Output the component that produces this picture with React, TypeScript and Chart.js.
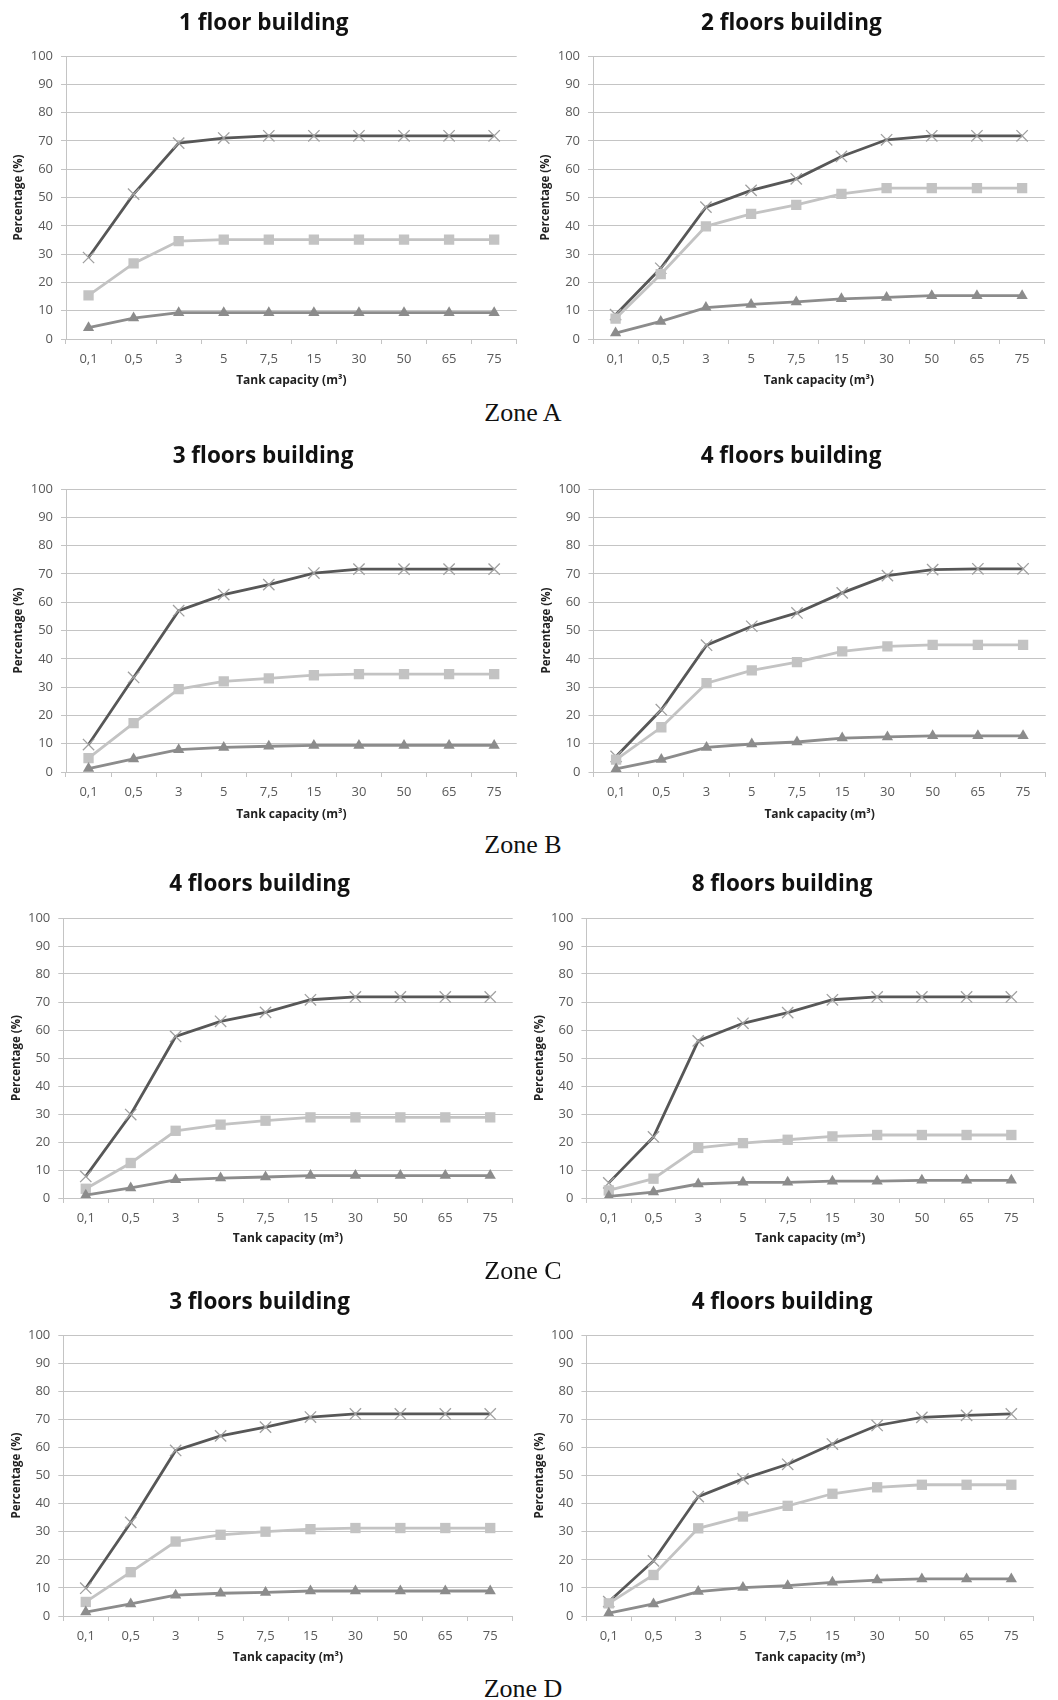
import React, { useEffect, useRef } from "react";
import { Chart, registerables } from "chart.js";

Chart.register(...registerables);

// ---- Data ----
const tankLabels = ["0,1", "0,5", "3", "5", "7,5", "15", "30", "50", "65", "75"];
const yTicks = [0, 10, 20, 30, 40, 50, 60, 70, 80, 90, 100];

const a1Cross = [28.8, 51.2, 69.2, 71.0, 71.8, 71.8, 71.8, 71.8, 71.8, 71.8];
const a1Square = [15.4, 26.7, 34.6, 35.1, 35.1, 35.1, 35.1, 35.1, 35.1, 35.1];
const a1Tri = [4.0, 7.4, 9.3, 9.3, 9.3, 9.3, 9.3, 9.3, 9.3, 9.3];

const a2Cross = [8.6, 25.0, 46.6, 52.5, 56.6, 64.5, 70.4, 71.8, 71.8, 71.8];
const a2Square = [7.2, 22.9, 39.8, 44.2, 47.4, 51.3, 53.3, 53.3, 53.3, 53.3];
const a2Tri = [2.1, 6.2, 11.1, 12.2, 13.1, 14.2, 14.7, 15.3, 15.3, 15.3];

const b3Cross = [9.7, 33.4, 57.0, 62.7, 66.2, 70.3, 71.7, 71.7, 71.7, 71.7];
const b3Square = [4.9, 17.3, 29.3, 32.0, 33.1, 34.2, 34.6, 34.6, 34.6, 34.6];
const b3Tri = [1.2, 4.6, 7.9, 8.7, 9.1, 9.4, 9.4, 9.4, 9.4, 9.4];

const b4Cross = [5.5, 22.0, 44.8, 51.5, 56.2, 63.3, 69.4, 71.5, 71.8, 71.8];
const b4Square = [4.4, 15.8, 31.4, 35.9, 38.8, 42.6, 44.4, 44.9, 44.9, 44.9];
const b4Tri = [1.1, 4.4, 8.7, 9.9, 10.6, 12.0, 12.4, 12.8, 12.8, 12.8];

const c4Cross = [7.7, 29.8, 57.7, 63.1, 66.3, 70.8, 71.8, 71.8, 71.8, 71.8];
const c4Square = [3.3, 12.5, 24.0, 26.2, 27.6, 28.8, 28.8, 28.8, 28.8, 28.8];
const c4Tri = [1.0, 3.6, 6.5, 7.1, 7.5, 8.0, 8.0, 8.0, 8.0, 8.0];

const c8Cross = [5.4, 21.8, 56.1, 62.4, 66.2, 70.8, 71.8, 71.8, 71.8, 71.8];
const c8Square = [2.7, 6.9, 17.9, 19.6, 20.8, 22.0, 22.5, 22.5, 22.5, 22.5];
const c8Tri = [0.6, 2.1, 5.0, 5.6, 5.6, 6.0, 6.0, 6.3, 6.3, 6.3];

const d3Cross = [9.9, 33.3, 58.9, 64.1, 67.2, 70.8, 71.9, 71.9, 71.9, 71.9];
const d3Square = [5.0, 15.6, 26.5, 28.9, 30.0, 30.9, 31.3, 31.3, 31.3, 31.3];
const d3Tri = [1.4, 4.3, 7.4, 8.1, 8.4, 8.9, 8.9, 8.9, 8.9, 8.9];

const d4Cross = [5.1, 19.6, 42.5, 48.8, 54.0, 61.2, 67.8, 70.7, 71.4, 71.9];
const d4Square = [4.5, 14.6, 31.2, 35.4, 39.2, 43.5, 45.8, 46.7, 46.7, 46.7];
const d4Tri = [1.0, 4.3, 8.7, 10.1, 10.8, 12.0, 12.8, 13.2, 13.2, 13.2];

const panelTitles = [
  "1 floor building",
  "2 floors building",
  "3 floors building",
  "4 floors building",
  "4 floors building",
  "8 floors building",
  "3 floors building",
  "4 floors building",
];
const zoneLabels = ["Zone A", "Zone B", "Zone C", "Zone D"];

// ---- Layout (positions only) ----
type Layout = {
  plotL: number;
  plotR: number;
  plotT: number;
  plotB: number;
  titleCx: number;
  titleCy: number;
  xTitleCy: number;
};

const layouts: Layout[] = [
  { plotL: 66, plotR: 522, plotT: 56, plotB: 339, titleCx: 263.8, titleCy: 24, xTitleCy: 381 },
  { plotL: 593, plotR: 1050, plotT: 56, plotB: 339, titleCx: 791.3, titleCy: 24, xTitleCy: 381 },
  { plotL: 66, plotR: 522, plotT: 489, plotB: 772, titleCx: 263, titleCy: 456.7, xTitleCy: 815 },
  { plotL: 593.5, plotR: 1051, plotT: 489, plotB: 772, titleCx: 791, titleCy: 456.7, xTitleCy: 815 },
  { plotL: 63.3, plotR: 517.7, plotT: 918, plotB: 1198, titleCx: 259.5, titleCy: 885, xTitleCy: 1239 },
  { plotL: 586.4, plotR: 1039, plotT: 918, plotB: 1198, titleCx: 782, titleCy: 885, xTitleCy: 1239 },
  { plotL: 63.3, plotR: 517.7, plotT: 1335, plotB: 1616, titleCx: 259.5, titleCy: 1303, xTitleCy: 1658 },
  { plotL: 586.4, plotR: 1039, plotT: 1335, plotB: 1616, titleCx: 782, titleCy: 1303, xTitleCy: 1658 },
];
const zoneCy = [413, 845.5, 1271.5, 1689];

const panelSeries = [
  [a1Cross, a1Square, a1Tri],
  [a2Cross, a2Square, a2Tri],
  [b3Cross, b3Square, b3Tri],
  [b4Cross, b4Square, b4Tri],
  [c4Cross, c4Square, c4Tri],
  [c8Cross, c8Square, c8Tri],
  [d3Cross, d3Square, d3Tri],
  [d4Cross, d4Square, d4Tri],
];

const FONT = "'Open Sans', 'DejaVu Sans', sans-serif";
const GRID = "#c4c4c4";

function Panel({ idx }: { idx: number }) {
  const ref = useRef<HTMLCanvasElement | null>(null);
  const L = layouts[idx];

  const TITLE_SIZE = 22.5;
  const TITLE_LH = TITLE_SIZE * 1.2;
  const YT_SIZE = 11.5;
  const YT_LH = YT_SIZE * 1.2;
  const XT_SIZE = 12;
  const XT_LH = XT_SIZE * 1.2;

  const canvasLeft = Math.round(2 * L.titleCx - L.plotR - 4);
  const padL = 2 * L.titleCx - canvasLeft - L.plotR;
  const canvasW = Math.round(L.plotR - canvasLeft + 4);
  const padR = canvasLeft + canvasW - L.plotR;
  const yAxisW = L.plotL - canvasLeft - padL;
  const yTitlePad = L.plotL - 47 - (canvasLeft + padL) - YT_LH / 2;

  const canvasTop = Math.round(L.titleCy - 20);
  const titlePadTop = L.titleCy - canvasTop - TITLE_LH / 2;
  const titlePadBottom = L.plotT - canvasTop - titlePadTop - TITLE_LH;
  const xAxisH = L.xTitleCy + 4 + XT_LH / 2 - L.plotB;
  const rawH = L.plotB - canvasTop + xAxisH;
  const canvasH = Math.ceil(rawH);
  const padB = canvasH - rawH;

  useEffect(() => {
    if (!ref.current) return;
    const [cross, square, tri] = panelSeries[idx];
    const chart = new Chart(ref.current, {
      type: "line",
      data: {
        labels: tankLabels,
        datasets: [
          {
            label: "tri",
            data: tri,
            borderColor: "#8c8c8c",
            backgroundColor: "#8c8c8c",
            borderWidth: 2.8,
            pointStyle: "triangle",
            pointRadius: 6.5,
            pointBorderWidth: 0,
            pointBackgroundColor: "#8c8c8c",
            tension: 0,
          },
          {
            label: "square",
            data: square,
            borderColor: "#c3c3c3",
            backgroundColor: "#c3c3c3",
            borderWidth: 2.8,
            pointStyle: "rect",
            pointRadius: 7.3,
            pointBorderWidth: 0,
            pointBackgroundColor: "#c3c3c3",
            tension: 0,
          },
          {
            label: "cross",
            data: cross,
            borderColor: "#575757",
            backgroundColor: "#575757",
            borderWidth: 2.8,
            pointStyle: "crossRot",
            pointRadius: 8,
            pointBorderWidth: 1.3,
            pointBorderColor: "#a0a0a0",
            tension: 0,
          },
        ],
      },
      options: {
        animation: false,
        responsive: false,
        events: [],
        layout: { padding: { left: padL, right: padR, top: 0, bottom: padB } },
        plugins: {
          legend: { display: false },
          tooltip: { enabled: false },
          title: {
            display: true,
            text: panelTitles[idx],
            color: "#111111",
            font: { family: FONT, size: TITLE_SIZE, weight: "bold", lineHeight: 1.2 },
            padding: { top: titlePadTop, bottom: titlePadBottom },
          },
        },
        scales: {
          x: {
            type: "category",
            offset: true,
            grid: {
              offset: true,
              drawOnChartArea: false,
              drawTicks: true,
              tickLength: 5,
              color: GRID,
            },
            border: { display: true, color: GRID, width: 1 },
            ticks: {
              color: "#595959",
              font: { family: FONT, size: 13 },
              padding: 7,
              maxRotation: 0,
              autoSkip: false,
            },
            title: {
              display: true,
              text: "Tank capacity (m³)",
              color: "#222222",
              font: { family: FONT, size: XT_SIZE, weight: "bold", lineHeight: 1.2 },
              padding: { top: 0, bottom: 4 },
            },
            afterFit: (s: any) => {
              s.height = xAxisH;
            },
          },
          y: {
            min: 0,
            max: 100,
            afterBuildTicks: (s: any) => {
              s.ticks = yTicks.map((v) => ({ value: v }));
            },
            grid: { color: GRID, lineWidth: 1, tickLength: 5, drawTicks: true },
            border: { display: true, color: GRID, width: 1 },
            ticks: {
              color: "#595959",
              font: { family: FONT, size: 13 },
              padding: 8,
            },
            title: {
              display: true,
              text: "Percentage (%)",
              color: "#222222",
              font: { family: FONT, size: YT_SIZE, weight: "bold", lineHeight: 1.2 },
              padding: { top: yTitlePad, bottom: 0 },
            },
            afterFit: (s: any) => {
              s.width = yAxisW;
            },
          },
        },
      },
    } as any);
    return () => chart.destroy();
  }, [idx]);

  return (
    <canvas
      ref={ref}
      width={canvasW}
      height={canvasH}
      style={{
        position: "absolute",
        left: canvasLeft,
        top: canvasTop,
        width: canvasW,
        height: canvasH,
      }}
    />
  );
}

export default function App() {
  return (
    <div
      style={{
        position: "absolute",
        left: 0,
        top: 0,
        width: 1058,
        height: 1700,
        background: "#ffffff",
        overflow: "hidden",
      }}
    >
      {layouts.map((_, i) => (
        <Panel key={i} idx={i} />
      ))}
      {zoneLabels.map((z, i) => (
        <div
          key={z}
          style={{
            position: "absolute",
            left: 0,
            width: 1046,
            top: zoneCy[i] - 15.2,
            height: 30,
            lineHeight: "30px",
            textAlign: "center",
            fontFamily: "'Liberation Serif', 'Times New Roman', serif",
            fontSize: 26,
            color: "#111111",
          }}
        >
          {z}
        </div>
      ))}
    </div>
  );
}
